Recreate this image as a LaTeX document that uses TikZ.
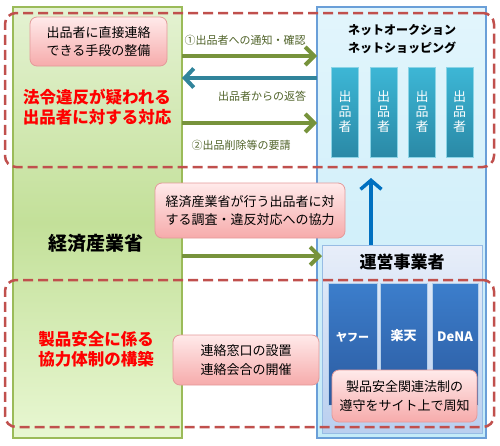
\documentclass[tikz,border=0pt]{standalone}
\usepackage{fontspec}
\setmainfont{Noto Sans CJK JP}
\usetikzlibrary{arrows.meta,positioning}

\definecolor{metiline}{HTML}{9BBB59}
\definecolor{metitop}{HTML}{E4F2D2}
\definecolor{metimid}{HTML}{C3E099}
\definecolor{metibot}{HTML}{E8F7D2}
\definecolor{netline}{HTML}{6A9FD8}
\definecolor{nettop}{HTML}{E2F5FC}
\definecolor{netbot}{HTML}{C4EBF8}
\definecolor{dashred}{HTML}{C0504D}
\definecolor{pinkline}{HTML}{E39A9A}
\definecolor{pinktop}{HTML}{FFEAEA}
\definecolor{pinkbot}{HTML}{F6ABAB}
\definecolor{arrgreen}{HTML}{77933C}
\definecolor{arrteal}{HTML}{31849B}
\definecolor{arrblue}{HTML}{0070C0}
\definecolor{labcol}{HTML}{4F6228}
\definecolor{sellertop}{HTML}{3DB7D6}
\definecolor{sellerbot}{HTML}{2A89A6}
\definecolor{optop}{HTML}{E8EEF9}
\definecolor{opbot}{HTML}{B9CFEF}
\definecolor{coytop}{HTML}{3C7ECC}
\definecolor{coybot}{HTML}{2B5A9F}

\begin{document}
\begin{tikzpicture}[x=1pt,y=-1pt,
  box/.style={inner sep=0pt,outer sep=0pt},
  metibox/.style={box,draw=metiline,line width=1.2pt,top color=metitop,bottom color=metibot,middle color=metimid},
  netbox/.style={box,draw=netline,line width=1.2pt,top color=nettop,bottom color=netbot},
  opbox/.style={box,draw=netline!70,line width=1pt,top color=optop,bottom color=opbot},
  redframe/.style={box,draw=dashred,line width=2.5pt,dash pattern=on 10pt off 5pt,rounded corners=11pt},
  pinkbox/.style={box,draw=pinkline,line width=0.8pt,rounded corners=7pt,top color=pinktop,bottom color=pinkbot,
    align=center,font=\fontsize{13}{18.5}\selectfont,text=black},
  sellerbox/.style={box,draw=sellertop!60,line width=0.6pt,top color=sellertop,bottom color=sellerbot,
    minimum width=27,minimum height=90,align=center,text=white,font=\fontsize{13}{15}\selectfont},
  coybox/.style={box,draw=netline!50,line width=0.6pt,top color=coytop,bottom color=coybot,
    minimum height=122,text=white,font=\bfseries\fontsize{13}{15}\selectfont},
  redtxt/.style={align=center,text=red,font=\bfseries\fontsize{16.5}{20}\selectfont},
  headtxt/.style={align=center,text=black,font=\bfseries},
  labtxt/.style={text=labcol,font=\fontsize{11}{13}\selectfont},
  garrow/.style={draw=arrgreen,line width=4pt,-{Straight Barb[length=9pt,width=18pt]}},
  tarrow/.style={draw=arrteal,line width=4pt,-{Straight Barb[length=9pt,width=19pt]}},
  barrow/.style={draw=arrblue,line width=3.5pt,-{Straight Barb[length=9pt,width=21pt]}}]
  \useasboundingbox (0,0) rectangle (500,445);

  % big columns
  \node[metibox,minimum width=169,minimum height=431] (meti) at (97.5,222.5) {};
  \node[netbox,minimum width=169,minimum height=431] (net) at (401.5,222.5) {};
  \node[opbox,minimum width=160,minimum height=188] (op) at (402,339) {};

  % sellers
  \node[headtxt,font=\bfseries\fontsize{12}{18}\selectfont] (nettitle) at (402,39) {ネットオークション\\ネットショッピング};
  \node[sellerbox] (s1) at (345,112) {出\\品\\者};
  \node[sellerbox] (s2) at (383.5,112) {出\\品\\者};
  \node[sellerbox] (s3) at (422,112) {出\\品\\者};
  \node[sellerbox] (s4) at (459.5,112) {出\\品\\者};

  % operators
  \node[headtxt,font=\bfseries\fontsize{17}{20}\selectfont] (optitle) at (402,262) {運営事業者};
  \node[coybox,minimum width=49] (yahoo) at (352.5,344) {};
  \node[coybox,minimum width=47] (rakuten) at (403.5,344) {};
  \node[coybox,minimum width=46] (dena) at (455,344) {};
  \node[text=white,font=\bfseries\fontsize{11}{13}\selectfont] (yahootxt) at (352.5,337) {ヤフー};
  \node[text=white,font=\bfseries\fontsize{13}{15}\selectfont] (rakutentxt) at (403.5,336) {楽天};
  \node[text=white,font=\bfseries\fontsize{13}{15}\selectfont] (denatxt) at (455,337) {DeNA};
  \node[pinkbox,minimum width=145,minimum height=52] (notice) at (404.5,396) {製品安全関連法制の\\遵守をサイト上で周知};

  % left column texts
  \node[pinkbox,minimum width=137,minimum height=49] (contact) at (98.5,41.5) {出品者に直接連絡\\できる手段の整備};
  \node[redtxt] (suspect) at (97,107) {法令違反が疑われる\\出品者に対する対応};
  \node[headtxt,font=\bfseries\fontsize{19}{22}\selectfont] (metitxt) at (96,243) {経済産業省};
  \node[redtxt] (safety) at (96,349) {製品安全に係る\\協力体制の構築};

  % red frames
  \node[redframe,minimum width=489,minimum height=154] (upper) at (249.5,90) {};
  \node[redframe,minimum width=489,minimum height=147] (lower) at (249.5,353.5) {};

  % arrows between meti and net
  \draw[garrow] (meti.east |- 0,56) -- (net.west |- 0,56);
  \node[labtxt] (lab1) at (245,40) {①出品者への通知・確認};
  \draw[tarrow] (net.west |- 0,78) -- (meti.east |- 0,78);
  \node[labtxt] (lab2) at (262,96) {出品者からの返答};
  \draw[garrow] (meti.east |- 0,123) -- (net.west |- 0,123);
  \node[labtxt] (lab3) at (241,145) {②出品削除等の要請};

  \node[pinkbox,minimum width=190,minimum height=55] (coop) at (250,210.5) {経済産業省が行う出品者に対\\する調査・違反対応への協力};
  \draw[garrow] (meti.east |- 0,256) -- (op.west |- 0,256);
  \coordinate (uptip) at (371,178);
  \draw[barrow] (op.north -| uptip) -- (uptip);

  \node[pinkbox,minimum width=146,minimum height=50] (window) at (246,360) {連絡窓口の設置\\連絡会合の開催};
\end{tikzpicture}
\end{document}
